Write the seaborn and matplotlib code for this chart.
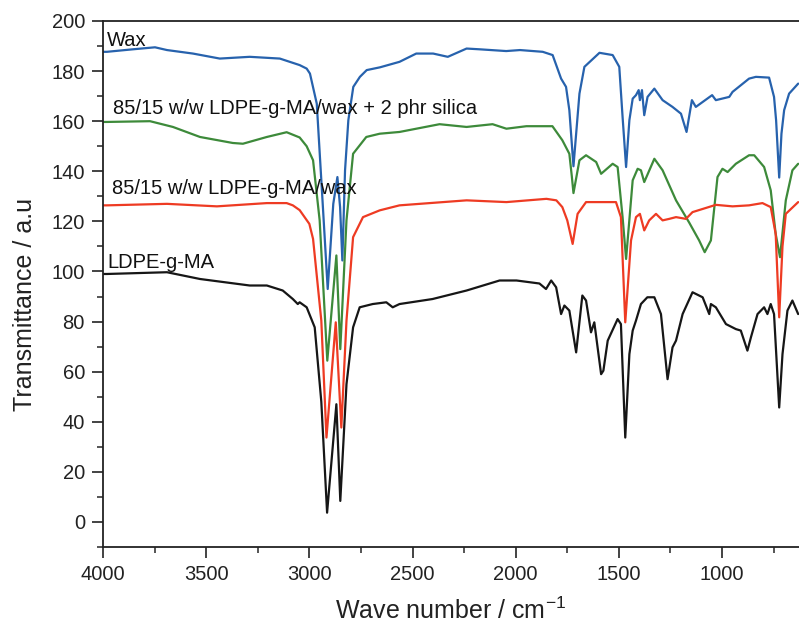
import numpy as np
import pandas as pd
import matplotlib
matplotlib.use("Agg")
import matplotlib.pyplot as plt
from matplotlib.ticker import MultipleLocator
import seaborn as sns

# ---------------- data ----------------
wax_wn = [4000, 3981, 3855, 3748, 3690, 3564, 3434, 3289, 3143, 3047, 3013, 2997, 2964, 2940,
          2911, 2884, 2864, 2851, 2840, 2827, 2811, 2787, 2755, 2722, 2658, 2563, 2482, 2400,
          2329, 2238, 2175, 2046, 1979, 1869, 1821, 1780, 1756, 1740, 1720, 1691, 1667, 1594,
          1530, 1498, 1482, 1465, 1449, 1433, 1417, 1404, 1398, 1388, 1377, 1361, 1328, 1288,
          1240, 1199, 1172, 1146, 1127, 1048, 1030, 965, 949, 869, 836, 772, 748, 738, 723,
          712, 699, 675, 631]
wax_t = [187.7, 187.7, 188.7, 189.5, 188.4, 187.0, 185.0, 185.7, 185.0, 182.4, 181.0, 179.0,
         167.0, 133.7, 93.0, 127.0, 137.7, 125.7, 104.4, 140.4, 160.4, 173.7, 177.7, 180.4,
         181.5, 183.7, 187.0, 187.0, 185.7, 189.0, 188.7, 188.0, 188.4, 187.7, 186.4, 177.0,
         173.7, 164.4, 142.0, 171.0, 181.7, 187.3, 186.4, 181.7, 161.7, 141.7, 160.4, 169.0,
         170.4, 172.4, 168.4, 172.4, 162.4, 169.7, 173.0, 168.4, 165.7, 163.0, 155.7, 168.4,
         165.7, 170.4, 168.4, 169.7, 171.7, 177.0, 177.7, 177.4, 169.7, 160.4, 137.5, 155.0,
         164.4, 171.0, 175.0]

silica_wn = [4000, 3981, 3772, 3661, 3530, 3371, 3322, 3206, 3110, 3047, 3013, 2982, 2950,
             2913, 2869, 2850, 2820, 2788, 2724, 2659, 2563, 2369, 2238, 2112, 2045, 1948,
             1822, 1774, 1740, 1728, 1720, 1691, 1659, 1610, 1586, 1530, 1506, 1482, 1465,
             1433, 1409, 1393, 1377, 1328, 1288, 1223, 1159, 1111, 1084, 1054, 1022, 998, 973,
             933, 869, 844, 796, 764, 740, 719, 691, 659, 631]
silica_t = [159.7, 159.7, 160.0, 157.7, 153.7, 151.3, 151.0, 153.7, 155.6, 153.5, 150.0, 144.4,
            120.4, 64.4, 106.4, 69.0, 120.4, 147.0, 153.7, 155.0, 155.7, 158.8, 157.7, 158.8,
            157.0, 158.0, 158.0, 152.4, 147.0, 138.0, 131.3, 144.4, 146.4, 143.7, 139.0, 143.0,
            141.7, 121.7, 105.0, 136.4, 141.0, 140.4, 135.7, 145.0, 140.4, 128.4, 119.5, 112.4,
            107.7, 112.4, 137.7, 141.0, 139.7, 143.0, 146.4, 146.4, 141.7, 132.4, 115.0, 105.7,
            128.4, 140.4, 143.0]

blend_wn = [4000, 3981, 3690, 3448, 3206, 3110, 3080, 3047, 3000, 2982, 2942, 2917, 2872, 2845,
            2820, 2788, 2740, 2659, 2563, 2238, 2045, 1851, 1803, 1774, 1750, 1724, 1700, 1659,
            1514, 1490, 1469, 1441, 1417, 1398, 1377, 1353, 1320, 1288, 1256, 1223, 1175, 1143,
            1030, 949, 869, 804, 764, 740, 723, 707, 691, 631]
blend_t = [126.4, 126.4, 127.0, 126.0, 127.3, 127.3, 126.4, 124.5, 119.0, 113.0, 80.4, 33.7,
           79.7, 37.7, 80.4, 113.7, 121.7, 124.4, 126.4, 128.4, 127.7, 129.0, 128.4, 125.7,
           120.4, 111.0, 123.0, 127.7, 127.7, 121.7, 79.7, 112.4, 121.7, 123.0, 116.4, 120.4,
           123.0, 120.4, 121.0, 121.7, 121.0, 123.7, 126.6, 126.0, 126.4, 127.3, 125.7, 115.0,
           81.7, 110.0, 123.0, 127.7]

ldpe_wn = [4000, 3981, 3690, 3530, 3289, 3206, 3129, 3080, 3056, 3047, 3013, 2974, 2942, 2914,
           2869, 2850, 2820, 2788, 2756, 2693, 2627, 2596, 2563, 2403, 2238, 2078, 1996, 1885,
           1853, 1828, 1804, 1780, 1764, 1740, 1707, 1677, 1659, 1635, 1619, 1586, 1575, 1554,
           1506, 1490, 1469, 1449, 1433, 1417, 1393, 1362, 1328, 1296, 1264, 1240, 1223, 1191,
           1143, 1094, 1062, 1054, 1030, 981, 933, 909, 877, 860, 828, 796, 780, 764, 748, 723,
           707, 683, 659, 631]
ldpe_t = [99.0, 99.0, 99.7, 97.0, 94.4, 94.4, 92.4, 89.0, 87.0, 87.7, 85.7, 77.7, 48.0, 3.7,
          47.0, 8.4, 55.0, 77.7, 85.7, 87.0, 87.7, 85.7, 87.0, 89.0, 92.4, 96.4, 96.4, 95.2,
          93.0, 96.4, 93.7, 83.0, 86.4, 84.4, 67.7, 90.4, 88.4, 75.7, 79.7, 59.0, 60.4, 72.4,
          81.0, 79.0, 33.7, 67.0, 76.4, 80.4, 87.0, 89.7, 89.7, 83.0, 57.0, 69.7, 72.4, 83.0,
          91.7, 89.7, 83.0, 87.0, 85.7, 79.0, 77.0, 76.4, 68.4, 73.7, 83.0, 85.7, 83.0, 87.0,
          83.0, 45.7, 67.0, 84.4, 88.4, 83.0]

series_names = ["Wax", "85/15 w/w LDPE-g-MA/wax + 2 phr silica",
                "85/15 w/w LDPE-g-MA/wax", "LDPE-g-MA"]
series_wn = [wax_wn, silica_wn, blend_wn, ldpe_wn]
series_t = [wax_t, silica_t, blend_t, ldpe_t]
label_wn = [3981, 3952, 3956, 3981]
label_t = [192.4, 165.2, 133.2, 103.6]

x_ticks = [4000, 3500, 3000, 2500, 2000, 1500, 1000]
y_ticks = [0, 20, 40, 60, 80, 100, 120, 140, 160, 180, 200]

colors = ["#2762ad", "#3d8a3a", "#ee3b23", "#161616"]

# ---------------- plotting ----------------
sns.set_style("ticks")
plt.rcParams["font.family"] = ["Liberation Sans", "DejaVu Sans"]
plt.rcParams["mathtext.default"] = "regular"

frames = []
for name, wn, t in zip(series_names, series_wn, series_t):
    frames.append(pd.DataFrame({"wn": wn, "T": t, "series": name}))
df = pd.concat(frames, ignore_index=True)

fig = plt.figure(figsize=(7.99, 6.31), dpi=100)
ax = fig.add_axes([103 / 799, 1 - 547 / 631, 1 - 103 / 799, (547 - 21) / 631])

sns.lineplot(data=df, x="wn", y="T", hue="series", hue_order=series_names,
             palette=colors, sort=False, estimator=None, linewidth=1.6,
             legend=False, ax=ax)

for name, lx, ly in zip(series_names, label_wn, label_t):
    ax.text(lx, ly, name, ha="left", va="center", fontsize=14.5, color="#111111")

ax.set_xlim(4000, 627)
ax.set_ylim(-10, 200)
ax.set_xticks(x_ticks)
ax.set_yticks(y_ticks)
ax.xaxis.set_minor_locator(MultipleLocator(250))
ax.yaxis.set_minor_locator(MultipleLocator(10))
ax.tick_params(which="major", direction="out", length=8, width=1.2, pad=5,
               labelsize=14.5, colors="#222222")
ax.tick_params(which="minor", direction="out", length=4, width=1.1)
for side in ["left", "bottom", "top"]:
    ax.spines[side].set_linewidth(1.3)
    ax.spines[side].set_color("#222222")
ax.spines["right"].set_visible(False)

ax.set_xlabel("Wave number / cm$^{-1}$", fontsize=18, labelpad=10, color="#222222")
ax.set_ylabel("Transmittance / a.u", fontsize=18, color="#222222")
ax.yaxis.set_label_coords(-0.095, 0.462)

fig.savefig("out.png", dpi=100)
